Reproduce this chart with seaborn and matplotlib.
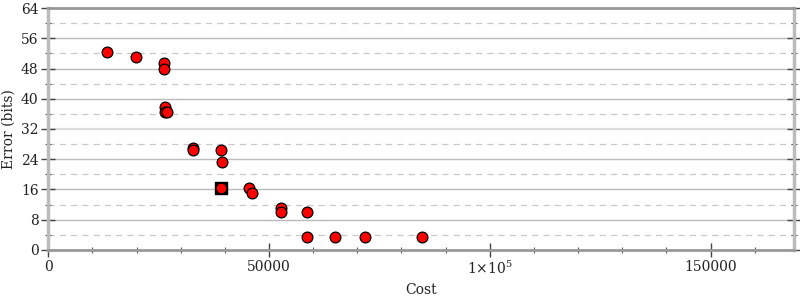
import matplotlib
matplotlib.use("Agg")
import matplotlib.pyplot as plt
import seaborn as sns
import pandas as pd
from matplotlib.ticker import MultipleLocator, FixedLocator, FuncFormatter

cost = [13300, 19800, 26300, 26300, 26450, 26450, 26850, 32700, 32700, 39150, 39350,
        39200, 45550, 46150, 52750, 52750, 58700, 58700, 65050, 71650, 84550]
error = [52.3, 51.0, 49.4, 48.0, 37.9, 36.4, 36.4, 26.9, 26.4, 26.4, 23.2,
         16.3, 16.3, 15.2, 11.0, 10.0, 10.0, 3.4, 3.4, 3.4, 3.4]
best_cost = [39200]
best_error = [16.3]

x_major = [0, 50000, 100000, 150000]
x_labels = ["0", "50000", "1×10$^{5}$", "150000"]
y_max = 64
x_max = 169000

sns.set_theme(style="white")
plt.rcParams["font.family"] = ["DejaVu Serif"]
plt.rcParams["mathtext.fontset"] = "dejavuserif"

fig = plt.figure(figsize=(8, 3), dpi=100)
ax = fig.add_axes([0.0604, 0.1667, 0.9326, 0.8066])

df = pd.DataFrame({"Cost": cost, "Error": error})
dfb = pd.DataFrame({"Cost": best_cost, "Error": best_error})

sns.scatterplot(data=dfb, x="Cost", y="Error", ax=ax, marker="s", s=85,
                color="#000000", edgecolor="#000000", linewidth=1, zorder=3)
sns.scatterplot(data=df, x="Cost", y="Error", ax=ax, marker="o", s=60,
                color="#ff0000", edgecolor="#000000", linewidth=0.9, zorder=4)

ax.set_xlim(0, x_max)
ax.set_ylim(0, y_max)
ax.xaxis.set_major_locator(FixedLocator(x_major))
ax.xaxis.set_major_formatter(FuncFormatter(lambda v, p: x_labels[x_major.index(int(round(v)))] if int(round(v)) in x_major else ""))
ax.xaxis.set_minor_locator(MultipleLocator(10000))
ax.yaxis.set_major_locator(MultipleLocator(8))
ax.yaxis.set_minor_locator(MultipleLocator(4))

ax.grid(False)
ax.yaxis.grid(True, which="major", color="#bbbbbb", linewidth=1.0, linestyle="-")
ax.yaxis.grid(True, which="minor", color="#c8c8c8", linewidth=0.9, linestyle=(0, (5, 4)))
for line, loc in zip(ax.yaxis.get_gridlines(), ax.yaxis.get_majorticklocs()):
    if abs(loc - 32) < 1e-6:
        line.set_color("#dddddd")
        line.set_linewidth(1.6)
ax.set_axisbelow(True)

ax.tick_params(axis="both", which="major", direction="inout", length=10, width=1.0,
               color="#444444", labelsize=10, labelcolor="#222222", pad=2)
ax.tick_params(axis="both", which="minor", direction="inout", length=5, width=0.8,
               color="#555555")
ax.tick_params(axis="y", which="both", right=True, left=True)
ax.tick_params(axis="x", which="both", bottom=True, top=False)

for side in ["bottom", "top"]:
    ax.spines[side].set_color("#999999")
    ax.spines[side].set_linewidth(2.0)
for side in ["left", "right"]:
    ax.spines[side].set_color("#bbbbbb")
    ax.spines[side].set_linewidth(2.5)

ax.set_xlabel("Cost", fontsize=10, color="#222222", labelpad=4.5)
ax.set_ylabel("Error (bits)", fontsize=10, color="#222222", labelpad=3.5)

fig.savefig("out.png", dpi=100)
